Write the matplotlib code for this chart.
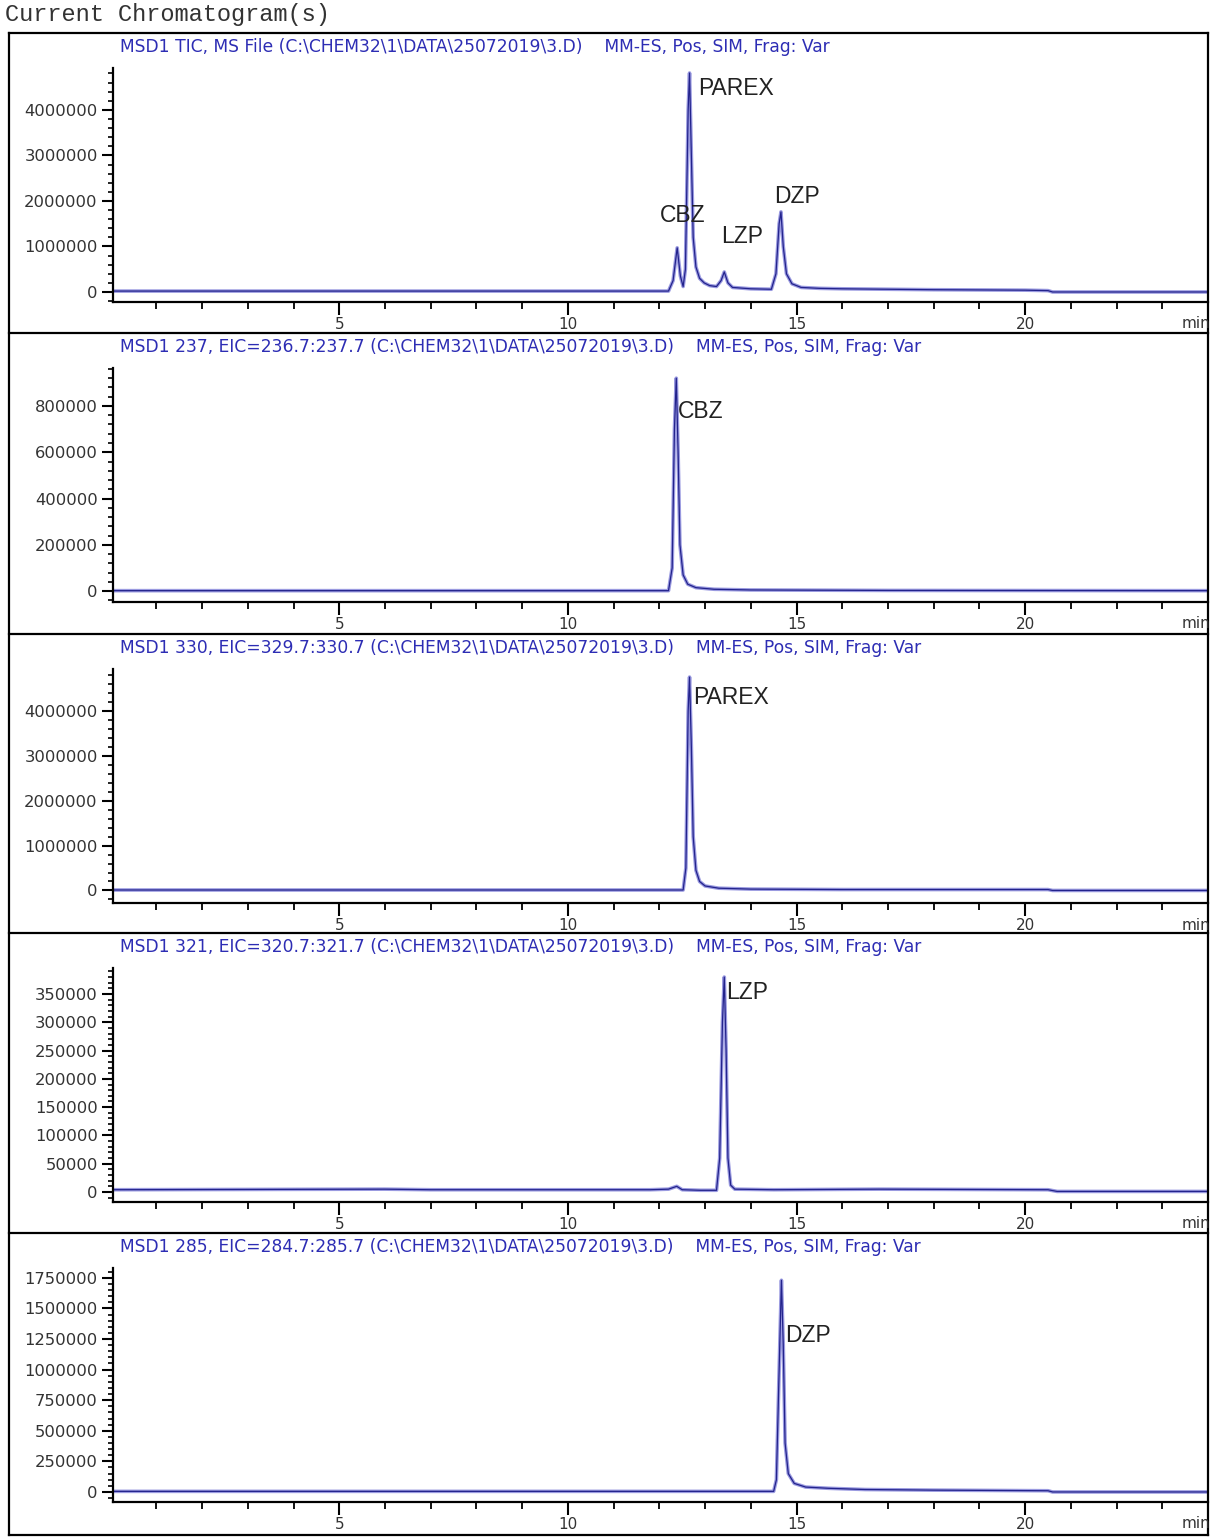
import matplotlib.pyplot as plt
from matplotlib.lines import Line2D
from matplotlib.ticker import MultipleLocator, FixedLocator

# ---- data ----
signals = ["TIC, MS File", "237, EIC=236.7:237.7", "330, EIC=329.7:330.7",
           "321, EIC=320.7:321.7", "285, EIC=284.7:285.7"]

# TIC trace
t_tic = [0.05, 12.20, 12.30, 12.39, 12.46, 12.52, 12.57, 12.63, 12.66, 12.70, 12.74, 12.80,
         12.88, 12.98, 13.10, 13.25, 13.35, 13.42, 13.50, 13.60, 14.00, 14.45, 14.55, 14.62,
         14.66, 14.71, 14.78, 14.90, 15.10, 15.50, 16.00, 17.00, 18.00, 20.00, 20.50, 20.60, 24.0]
y_tic = [0.02e6, 0.02e6, 0.25e6, 0.97e6, 0.35e6, 0.12e6, 0.5e6, 4.0e6, 4.81e6, 3.0e6, 1.2e6, 0.55e6,
         0.3e6, 0.2e6, 0.14e6, 0.12e6, 0.25e6, 0.44e6, 0.2e6, 0.1e6, 0.07e6, 0.06e6, 0.4e6, 1.5e6,
         1.76e6, 1.0e6, 0.4e6, 0.18e6, 0.1e6, 0.08e6, 0.07e6, 0.06e6, 0.05e6, 0.04e6, 0.03e6, 0.0, 0.0]

# EIC 237 (CBZ)
t_237 = [0.05, 12.20, 12.28, 12.33, 12.37, 12.41, 12.45, 12.52, 12.62, 12.80, 13.20, 14.0, 17.0, 24.0]
y_237 = [2e3, 2e3, 100e3, 700e3, 920e3, 600e3, 200e3, 70e3, 30e3, 15e3, 8e3, 5e3, 3e3, 2e3]

# EIC 330 (PAREX)
t_330 = [0.05, 12.52, 12.58, 12.63, 12.66, 12.70, 12.74, 12.80, 12.88, 13.0, 13.3, 14.0, 16.0,
         20.5, 20.6, 24.0]
y_330 = [0.01e6, 0.01e6, 0.5e6, 4.0e6, 4.76e6, 3.2e6, 1.2e6, 0.45e6, 0.2e6, 0.1e6, 0.05e6, 0.03e6,
         0.02e6, 0.02e6, 0.0, 0.0]

# EIC 321 (LZP)
t_321 = [0.05, 6.0, 7.0, 11.8, 12.2, 12.38, 12.5, 12.9, 13.25, 13.32, 13.38, 13.42, 13.46, 13.50,
         13.56, 13.65, 14.5, 16.8, 20.5, 20.7, 24.0]
y_321 = [4e3, 5e3, 4e3, 4e3, 5e3, 10e3, 4e3, 3e3, 3e3, 60e3, 300e3, 380e3, 250e3, 60e3,
         12e3, 5e3, 4e3, 5e3, 4e3, 1e3, 1e3]

# EIC 285 (DZP)
t_285 = [0.05, 14.50, 14.56, 14.62, 14.67, 14.71, 14.75, 14.82, 14.95, 15.2, 15.7, 16.5, 18.0,
         20.5, 20.6, 24.0]
y_285 = [0.005e6, 0.005e6, 0.1e6, 1.0e6, 1.73e6, 1.2e6, 0.4e6, 0.15e6, 0.07e6, 0.04e6, 0.03e6,
         0.02e6, 0.015e6, 0.01e6, 0.0, 0.0]

traces = [(t_tic, y_tic), (t_237, y_237), (t_330, y_330), (t_321, y_321), (t_285, y_285)]

# peak labels: (name, time of text left edge, height of text centre)
labels = [
    [("PAREX", 12.84, 4.48e6), ("CBZ", 12.01, 1.69e6), ("LZP", 13.36, 1.21e6), ("DZP", 14.52, 2.09e6)],
    [("CBZ", 12.40, 778e3)],
    [("PAREX", 12.73, 4.31e6)],
    [("LZP", 13.47, 352e3)],
    [("DZP", 14.74, 1.276e6)],
]

ylims = [(-0.22e6, 4.92e6), (-47e3, 964e3), (-0.28e6, 4.94e6), (-17.7e3, 396e3), (-82e3, 1.83e6)]
ymajor = [1e6, 200e3, 1e6, 50e3, 250e3]
ytop = [4e6, 800e3, 4e6, 350e3, 1750e3]

# ---- layout (pixels) ----
W, H = 1219, 1537
fig = plt.figure(figsize=(W / 100, H / 100), dpi=100)
fig.patch.set_facecolor('white')

def fx(px):
    return px / W

def fy(py):
    return 1 - py / H

tops = [33, 333, 634, 933, 1233]
left, right, bottom = 9, 1208, 1535

# frame and separators
for x0, y0, x1, y1 in [(left, 33, right, 33), (left, bottom, right, bottom),
                       (left, 33, left, bottom), (right, 33, right, bottom)]:
    fig.add_artist(Line2D([fx(x0), fx(x1)], [fy(y0), fy(y1)], color='black', lw=1.6))
for s in tops[1:]:
    fig.add_artist(Line2D([fx(left), fx(right)], [fy(s), fy(s)], color='black', lw=1.6))

fig.text(fx(5), fy(15), "Current Chromatogram(s)", family='Liberation Mono', fontsize=17,
         color='#333333', ha='left', va='center')

for i, s in enumerate(tops):
    ax = fig.add_axes([fx(113), fy(s + 269), fx(right) - fx(113), (269 - 35) / H])
    t, y = traces[i]
    ax.plot(t, y, color='#9a9ae0', lw=2.6, solid_joinstyle='round')
    ax.plot(t, y, color='#23238c', lw=0.9)
    ax.set_xlim(0.05, 24.0)
    ax.set_ylim(*ylims[i])

    for sp in ['top', 'right']:
        ax.spines[sp].set_visible(False)
    for sp in ['left', 'bottom']:
        ax.spines[sp].set_linewidth(1.6)
    ax.set_facecolor('none')

    ax.xaxis.set_major_locator(FixedLocator([5, 10, 15, 20]))
    ax.xaxis.set_minor_locator(MultipleLocator(1))
    ax.yaxis.set_major_locator(MultipleLocator(ymajor[i]))
    ax.yaxis.set_minor_locator(MultipleLocator(ymajor[i] / 5))
    ax.set_yticks([v for v in ax.get_yticks() if 0 <= v <= ytop[i]])
    ax.set_yticklabels([f"{int(round(v))}" for v in ax.get_yticks()])
    ax.set_xticklabels(["5", "10", "15", "20"])

    ax.tick_params(axis='x', which='major', direction='out', length=9, width=1.5, pad=2,
                   labelsize=11, labelcolor='#333333')
    ax.tick_params(axis='x', which='minor', direction='out', length=5, width=1.3)
    ax.tick_params(axis='y', which='major', direction='out', length=8, width=1.5, pad=3,
                   labelsize=11.8, labelcolor='#333333')
    ax.tick_params(axis='y', which='minor', direction='out', length=3.5, width=1.2)

    fig.text(fx(right + 2), fy(s + 291), "min", fontsize=11, color='#333333',
             ha='right', va='center')

    title = f"MSD1 {signals[i]} (C:\\CHEM32\\1\\DATA\\25072019\\3.D)    MM-ES, Pos, SIM, Frag: Var"
    fig.text(fx(120), fy(s + 14), title, family='DejaVu Sans', fontsize=12.3,
             color='#2d2db4', ha='left', va='center')

    for name, tx, ty in labels[i]:
        ax.text(tx, ty, name, family='Liberation Sans', fontsize=16.5, color='#222222',
                ha='left', va='center')

fig.savefig("out.png", dpi=100, facecolor='white')
